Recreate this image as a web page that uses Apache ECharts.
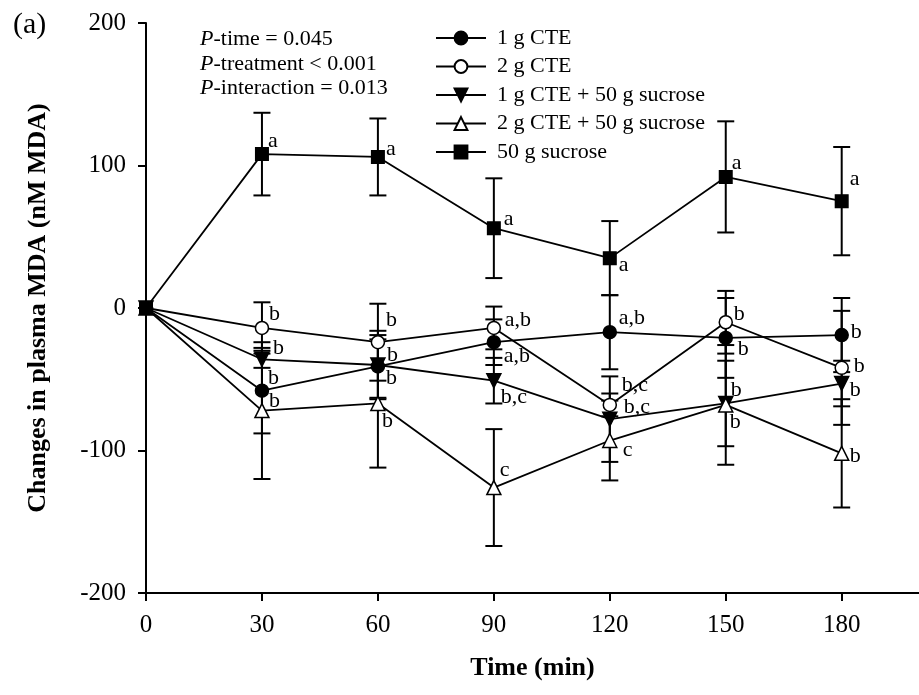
<!DOCTYPE html>
<html>
<head>
<meta charset="utf-8">
<script src="https://cdn.jsdelivr.net/npm/echarts@6/dist/echarts.min.js"></script>
<style>
  html, body { margin: 0; padding: 0; background: #fff; }
  #main { width: 919px; height: 695px; }
</style>
</head>
<body>
<div id="main"></div>
<script>
var FONT = "'Liberation Serif', 'Times New Roman', serif";

// time points (min)
var times = [0, 30, 60, 90, 120, 150, 180];
var xTicks = [0, 30, 60, 90, 120, 150, 180];
var yTicks = [-200, -100, 0, 100, 200];

// means and SE of change in plasma MDA (nM)
var cte1 = [0, -58, -41, -24, -17, -21, -19];
var cte1SE = [0, 30, 22, 16, 26, 28, 26];
var cte2 = [0, -14, -24, -14, -68, -10, -42];
var cte2SE = [0, 18, 27, 15, 8, 22, 40];
var cte1Suc = [0, -36, -40, -51, -78, -67, -53];
var cte1SucSE = [0, 6, 24, 16, 30, 30, 16];
var cte2Suc = [0, -72, -67, -126, -93, -68, -102];
var cte2SucSE = [0, 48, 45, 41, 28, 42, 38];
var suc = [0, 108, 106, 56, 35, 92, 75];
var sucSE = [0, 29, 27, 35, 26, 39, 38];

// significance letters
var cte1Letters = ['', 'b', 'b', 'a,b', 'a,b', 'b', 'b'];
var cte2Letters = ['', 'b', 'b', 'a,b', 'b,c', 'b', 'b'];
var cte1SucLetters = ['', 'b', 'b', 'b,c', 'b,c', 'b', 'b'];
var cte2SucLetters = ['', 'b', 'b', 'c', 'c', 'b', 'b'];
var sucLetters = ['', 'a', 'a', 'a', 'a', 'a', 'a'];

// letter placement next to each marker (px)
var cte1Off = [null, [6, -12], [9, -11], [10, 14], [9, -14], [12, 11], [9, -3]];
var cte2Off = [null, [7, -14], [8, -22], [11, -8], [12, -20], [8, -8], [12, -2]];
var cte1SucOff = [null, [11, -11], [8, 13], [7, 17], [14, -12], [5, -13], [8, 7]];
var cte2SucOff = [null, [7, -9], [4, 18], [6, -17], [13, 10], [4, 17], [8, 3]];
var sucOff = [null, [6, -13], [8, -8], [10, -9], [9, 7], [6, -14], [8, -22]];

function pointData(vals, letters, offs) {
  return vals.map(function(v, i) {
    var item = { value: [times[i], v] };
    if (letters[i]) {
      item.label = { show: true, formatter: letters[i], offset: offs[i] };
    } else {
      item.label = { show: false };
    }
    return item;
  });
}

function errData(vals, se) {
  var out = [];
  for (var i = 0; i < vals.length; i++) {
    if (se[i] > 0) out.push([times[i], vals[i] - se[i], vals[i] + se[i]]);
  }
  return out;
}

function lineSeries(name, vals, letters, offs, symbol, size, fill, rotate) {
  return {
    name: name,
    type: 'line',
    data: pointData(vals, letters, offs),
    symbol: symbol,
    symbolSize: size,
    symbolRotate: rotate || 0,
    showAllSymbol: true,
    z: 3,
    lineStyle: { color: '#000', width: 1.8 },
    itemStyle: { color: fill, borderColor: '#000', borderWidth: 1.5 },
    label: {
      show: true,
      position: 'inside',
      align: 'left',
      verticalAlign: 'middle',
      color: '#000',
      fontFamily: FONT,
      fontSize: 22
    },
    emphasis: { disabled: true }
  };
}

function errSeries(vals, se) {
  return {
    type: 'custom',
    z: 2,
    silent: true,
    data: errData(vals, se),
    renderItem: function(params, api) {
      var lo = api.coord([api.value(0), api.value(1)]);
      var hi = api.coord([api.value(0), api.value(2)]);
      var w = 8.5;
      var st = { stroke: '#000', lineWidth: 2 };
      return {
        type: 'group',
        children: [
          { type: 'line', shape: { x1: lo[0], y1: lo[1], x2: hi[0], y2: hi[1] }, style: st },
          { type: 'line', shape: { x1: lo[0] - w, y1: lo[1], x2: lo[0] + w, y2: lo[1] }, style: st },
          { type: 'line', shape: { x1: hi[0] - w, y1: hi[1], x2: hi[0] + w, y2: hi[1] }, style: st }
        ]
      };
    }
  };
}

var chart = echarts.init(document.getElementById('main'), null, { renderer: 'canvas' });

var option = {
  animation: false,
  backgroundColor: '#fff',
  textStyle: { fontFamily: FONT },
  grid: { left: 146, right: -9, top: 23, bottom: 102, containLabel: false },
  legend: {
    orient: 'vertical',
    left: 430,
    top: 22,
    itemWidth: 50,
    itemHeight: 16,
    itemGap: 6.5,
    selectedMode: false,
    textStyle: { fontFamily: FONT, fontSize: 22, color: '#000', lineHeight: 22, padding: [0, 0, 0, 6] },
    data: ['1 g CTE', '2 g CTE', '1 g CTE + 50 g sucrose', '2 g CTE + 50 g sucrose', '50 g sucrose']
  },
  xAxis: {
    type: 'value',
    min: 0,
    max: 200,
    interval: 30,
    name: 'Time (min)',
    nameLocation: 'middle',
    nameGap: 62,
    nameTextStyle: { fontFamily: FONT, fontSize: 26, fontWeight: 'bold', color: '#000' },
    axisLine: { onZero: false, lineStyle: { color: '#000', width: 2 } },
    axisTick: { length: 8, lineStyle: { color: '#000', width: 2 } },
    axisLabel: {
      margin: 20, fontFamily: FONT, fontSize: 25, color: '#000', showMaxLabel: false,
      formatter: function(v) { return xTicks.indexOf(v) >= 0 ? String(v) : ''; }
    },
    splitLine: { show: false }
  },
  yAxis: {
    type: 'value',
    min: -200,
    max: 200,
    interval: 100,
    name: 'Changes in plasma MDA (nM MDA)',
    nameLocation: 'middle',
    nameGap: 95,
    nameTextStyle: { fontFamily: FONT, fontSize: 26, fontWeight: 'bold', color: '#000' },
    axisLine: { show: true, onZero: false, lineStyle: { color: '#000', width: 2 } },
    axisTick: { show: true, length: 8, lineStyle: { color: '#000', width: 2 } },
    axisLabel: {
      margin: 20, fontFamily: FONT, fontSize: 25, color: '#000',
      formatter: function(v) { return yTicks.indexOf(v) >= 0 ? String(v) : ''; }
    },
    splitLine: { show: false }
  },
  graphic: [
    {
      type: 'text', left: 13, top: 10,
      style: { text: '(a)', font: '30px ' + FONT, fill: '#000' }
    },
    {
      type: 'text', left: 200, top: 27,
      style: {
        text: '{i|P}-time = 0.045\n{i|P}-treatment < 0.001\n{i|P}-interaction = 0.013',
        font: '22px ' + FONT,
        lineHeight: 24.5,
        fill: '#000',
        rich: { i: { fontStyle: 'italic', fontFamily: FONT, fontSize: 22, lineHeight: 24.5 } }
      }
    }
  ],
  series: [
    errSeries(cte1, cte1SE),
    errSeries(cte2, cte2SE),
    errSeries(cte1Suc, cte1SucSE),
    errSeries(cte2Suc, cte2SucSE),
    errSeries(suc, sucSE),
    lineSeries('1 g CTE', cte1, cte1Letters, cte1Off, 'circle', 13, '#000'),
    lineSeries('2 g CTE', cte2, cte2Letters, cte2Off, 'circle', 13, '#fff'),
    lineSeries('1 g CTE + 50 g sucrose', cte1Suc, cte1SucLetters, cte1SucOff, 'triangle', 14, '#000', 180),
    lineSeries('2 g CTE + 50 g sucrose', cte2Suc, cte2SucLetters, cte2SucOff, 'triangle', 14, '#fff'),
    lineSeries('50 g sucrose', suc, sucLetters, sucOff, 'rect', 12.5, '#000')
  ]
};

chart.setOption(option);
</script>
</body>
</html>
